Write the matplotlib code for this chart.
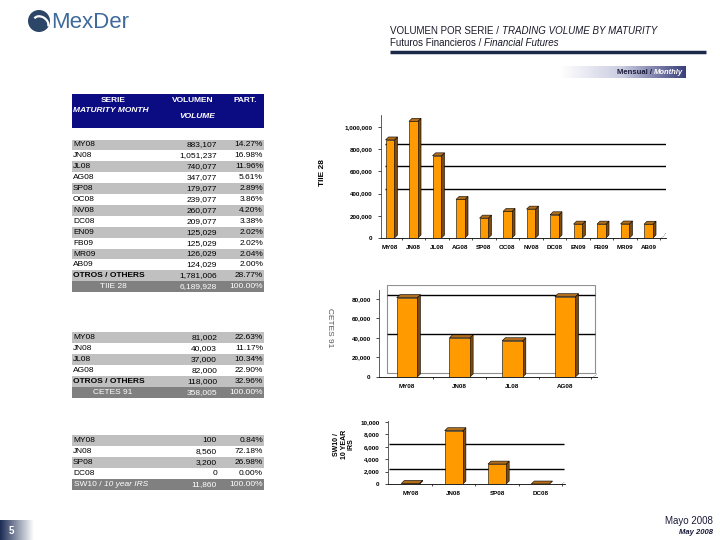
import matplotlib
matplotlib.use('Agg')
import matplotlib.pyplot as plt
from matplotlib.patches import Rectangle, Polygon, Circle, Arc
from matplotlib.colors import LinearSegmentedColormap
import numpy as np

plt.rcParams['font.family'] = ['Liberation Sans', 'DejaVu Sans']

W, H = 720, 540

# --- data ---
tiie_series = ['MY08', 'JN08', 'JL08', 'AG08', 'SP08', 'OC08', 'NV08', 'DC08',
               'EN09', 'FB09', 'MR09', 'AB09']
tiie_volume = [883107, 1051237, 740077, 347077, 179077, 239077, 260077, 209077,
               125029, 125029, 126029, 124029]
tiie_others = 1781006

cetes_series = ['MY08', 'JN08', 'JL08', 'AG08']
cetes_volume = [81002, 40003, 37000, 82000]
cetes_others = 118000

sw10_series = ['MY08', 'JN08', 'SP08', 'DC08']
sw10_volume = [100, 8560, 3200, 0]

tiie_ticks = [0, 200000, 400000, 600000, 800000, 1000000]
cetes_ticks = [0, 20000, 40000, 60000, 80000]
sw10_ticks = [0, 2000, 4000, 6000, 8000, 10000]

NAVY = '#0c0c82'
ORANGE = '#ff9a00'
SIDE = '#7a4a12'
TOP = '#b06d1c'

fig = plt.figure(figsize=(7.2, 5.4), dpi=100)
fig.patch.set_facecolor('white')

# overlay axes in pixel coords (y down) for the slide furniture
bg = fig.add_axes([0, 0, 1, 1])
bg.set_xlim(0, W)
bg.set_ylim(H, 0)
bg.axis('off')
renderer = fig.canvas.get_renderer()


def after(t):
    # x pixel where a text ends, to chain a second style on the same line
    bb = t.get_window_extent(renderer)
    return bb.x1


# logo
bg.add_patch(Circle((39, 21), 11, fc='#2c4668', ec='none'))
bg.add_patch(Arc((41, 23), 16, 12, angle=35, theta1=180, theta2=350, color='white', lw=1.6))
bg.text(51, 22, 'MexDer', fontsize=16, color='#3f6a99', va='center', ha='left')

# title block
t = bg.text(390, 31, 'VOLUMEN POR SERIE / ', fontsize=7, color='#1a1a2a', va='center')
bg.text(after(t), 31, 'TRADING VOLUME BY MATURITY', fontsize=7, style='italic',
        color='#1a1a2a', va='center')
t = bg.text(390, 43, 'Futuros Financieros / ', fontsize=7, color='#1a1a2a', va='center')
bg.text(after(t), 43, 'Financial Futures', fontsize=7, style='italic',
        color='#1a1a2a', va='center')
bg.plot([390, 706], [52, 52], color='#1b2a48', lw=2.5, solid_capstyle='butt')

# "Mensual / Monthly" tab
grad = LinearSegmentedColormap.from_list('g', ['#ffffff', '#c9cbe0', '#3b3f7a'])
bg.imshow(np.linspace(0, 1, 200).reshape(1, -1), cmap=grad, aspect='auto',
          extent=[560, 686, 78, 66], zorder=1)
t2 = bg.text(683, 72, 'Monthly', fontsize=5.5, fontweight='bold', style='italic',
             color='white', ha='right', va='center', zorder=2)
bb = t2.get_window_extent(renderer)
bg.text(bb.x0, 72, 'Mensual / ', fontsize=5.5, fontweight='bold', color='#1a1a3a',
        ha='right', va='center', zorder=2)

# page number and date
pgrad = LinearSegmentedColormap.from_list('p', ['#1c2c55', '#ffffff'])
bg.imshow(np.linspace(0, 1, 100).reshape(1, -1), cmap=pgrad, aspect='auto',
          extent=[0, 34, 540, 520], zorder=1)
bg.text(9, 531, '5', fontsize=7, fontweight='bold', color='white', va='center', zorder=2)
bg.text(713, 521, 'Mayo 2008', fontsize=7, color='#1a1a3a', ha='right', va='center')
bg.text(713, 533, 'May 2008', fontsize=5.5, style='italic', fontweight='bold',
        color='#1a1a3a', ha='right', va='center')

# --- tables ---
TX0, TX1 = 72, 264
ROW_H = 10.9
fs = 6

bg.add_patch(Rectangle((TX0, 94), TX1 - TX0, 34, fc=NAVY, ec='none'))
bg.text(113, 100, 'SERIE', fontsize=fs, fontweight='bold', color='white', ha='center', va='center')
bg.text(73, 110, 'MATURITY MONTH', fontsize=fs, fontweight='bold', style='italic',
        color='white', ha='left', va='center')
bg.text(193, 100, 'VOLUMEN', fontsize=fs, fontweight='bold', color='white', ha='center', va='center')
bg.text(197, 117, 'VOLUME', fontsize=fs, fontweight='bold', style='italic',
        color='white', ha='center', va='center')
bg.text(245, 100, 'PART.', fontsize=fs, fontweight='bold', color='white', ha='center', va='center')


def table(y_first, names, vols, others, total_label):
    total = sum(vols) + (others or 0)
    rows = list(zip(names, vols))
    if others:
        rows.append(('OTROS / OTHERS', others))
    for k, (name, v) in enumerate(rows):
        yc = y_first + k * ROW_H
        if k % 2 == 0:
            bg.add_patch(Rectangle((TX0, yc - ROW_H / 2), TX1 - TX0, ROW_H, fc='#c0c0c0', ec='none'))
        bold = 'bold' if name.startswith('OTROS') else 'normal'
        bg.text(73, yc, name, fontsize=fs, fontweight=bold, color='black', va='center')
        bg.text(217, yc, f'{v:,}', fontsize=fs, color='black', ha='right', va='center')
        bg.text(263, yc, f'{100 * v / total:.2f}%', fontsize=fs, color='black', ha='right', va='center')
    yc = y_first + len(rows) * ROW_H
    bg.add_patch(Rectangle((TX0, yc - ROW_H / 2), TX1 - TX0, ROW_H, fc='#808080', ec='none'))
    if total_label is None:
        t = bg.text(74, yc, 'SW10 / ', fontsize=fs, color='white', va='center')
        bg.text(after(t), yc, '10 year IRS', fontsize=fs, style='italic', color='white', va='center')
    else:
        bg.text(113, yc, total_label, fontsize=fs, color='white', ha='center', va='center')
    bg.text(217, yc, f'{total:,}', fontsize=fs, color='white', ha='right', va='center')
    bg.text(263, yc, '100.00%', fontsize=fs, color='white', ha='right', va='center')


table(145, tiie_series, tiie_volume, tiie_others, 'TIIE 28')
table(337.7, cetes_series, cetes_volume, cetes_others, 'CETES 91')
table(440.7, sw10_series, sw10_volume, None, None)


# --- charts ---
def px_axes(left, right, y0, ytop):
    ax = fig.add_axes([left / W, 1 - y0 / H, (right - left) / W, (y0 - ytop) / H])
    ax.set_facecolor('none')
    return ax


def bars3d(ax, vals, width, dx, dy):
    for i, v in enumerate(vals):
        x0, x1 = i - width / 2, i + width / 2
        ax.add_patch(Polygon([(x1, 0), (x1 + dx, dy), (x1 + dx, v + dy), (x1, v)],
                             fc=SIDE, ec='black', lw=0.4, zorder=3))
        ax.add_patch(Polygon([(x0, v), (x0 + dx, v + dy), (x1 + dx, v + dy), (x1, v)],
                             fc=TOP, ec='black', lw=0.4, zorder=3))
    ax.bar(range(len(vals)), vals, width, color=ORANGE, edgecolor='black',
           linewidth=0.4, zorder=4)


def style(ax, names, ticks, ymax, xlim):
    ax.set_xlim(*xlim)
    ax.set_ylim(0, ymax)
    ax.set_xticks(range(len(names)))
    ax.set_xticklabels(names)
    ax.set_xticks(np.arange(len(names)) + 0.5, minor=True)
    ax.set_yticks(ticks)
    ax.set_yticklabels([f'{v:,}' for v in ticks])
    ax.tick_params(axis='x', which='major', length=0, pad=5, labelsize=4.5)
    ax.tick_params(axis='x', which='minor', length=1.2, width=0.5)
    ax.tick_params(axis='y', length=2, pad=4, labelsize=4.5, width=0.5)
    for lab in ax.get_xticklabels() + ax.get_yticklabels():
        lab.set_fontweight('bold')
    for s in ['top', 'right']:
        ax.spines[s].set_visible(False)
    ax.spines['left'].set_linewidth(0.6)
    ax.spines['bottom'].set_linewidth(0.6)
    ax.spines['left'].set_color('#444444')
    # little floor corner at the right end
    ax.plot([0.985, 1.0], [0.0, 0.04], transform=ax.transAxes, color='#444444',
            lw=0.5, ls=':', clip_on=False)


# TIIE 28
ax1 = px_axes(381, 666, 238, 115)
style(ax1, tiie_series, tiie_ticks, 1.108e6, (-0.383, 11.745))
ax1.hlines([g + 45000 for g in [400000, 600000, 800000]], -0.2, 11.745,
           color='black', lw=1.0, zorder=1)
bars3d(ax1, tiie_volume, 0.38, 0.13, 27000)
fig.text(323 / W, 1 - 173 / H, 'TIIE 28', rotation=90, fontsize=6, fontweight='bold',
         ha='center', va='center')

# CETES 91
ax2 = px_axes(379, 597, 377, 285)
style(ax2, cetes_series, cetes_ticks, 94000, (-0.531, 3.605))
ax2.spines['left'].set_bounds(0, 89000)
ax2.add_patch(Rectangle((-0.38, 3600), 3.94, 90400, fc='none', ec='#909090', lw=0.8, zorder=1))
ax2.hlines([g + 4100 for g in [40000, 80000]], -0.38, 3.56, color='black', lw=1.0, zorder=1)
bars3d(ax2, cetes_volume, 0.39, 0.06, 3100)
fig.text(330 / W, 1 - 328 / H, 'CETES 91', rotation=270, fontsize=6, color='#555555',
         ha='center', va='center')

# SW10
ax3 = px_axes(388, 565, 484, 420.5)
style(ax3, sw10_series, sw10_ticks, 10200, (-0.52, 3.57))
ax3.hlines([g + 370 for g in [2000, 6000]], -0.5, 3.55, color='black', lw=1.0, zorder=1)
bars3d(ax3, sw10_volume, 0.42, 0.07, 480)
fig.text(344 / W, 1 - 444 / H, 'SW10 /\n10 YEAR\nIRS', rotation=90, fontsize=5,
         fontweight='bold', ha='center', va='center', linespacing=1.0)

fig.savefig('out.png', dpi=100)
